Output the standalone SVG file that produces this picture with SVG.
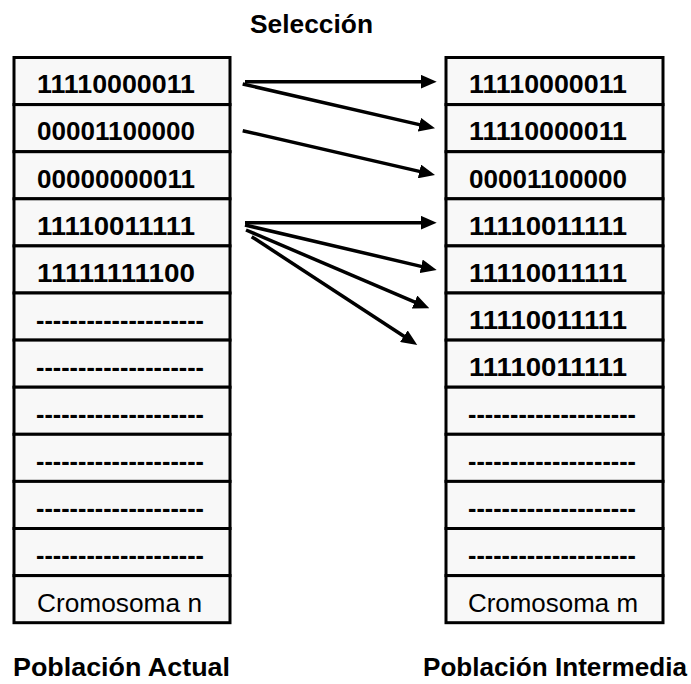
<svg xmlns="http://www.w3.org/2000/svg" width="691" height="684" viewBox="0 0 691 684">
<style>
.cell{fill:#f8f8f8;stroke:#000;stroke-width:3}
.b{font-family:"Liberation Sans",Arial,sans-serif;font-weight:bold;font-size:26px;fill:#000}
.r{font-family:"Liberation Sans",Arial,sans-serif;font-size:25px;fill:#000}
.t{font-family:"Liberation Sans",Arial,sans-serif;font-weight:bold;font-size:26px;fill:#000}
.arr{stroke:#000;stroke-width:3.5;fill:none;marker-end:url(#ah)}
</style>
<defs>
<marker id="ah" markerUnits="userSpaceOnUse" viewBox="0 0 16 14" refX="1" refY="7" markerWidth="16" markerHeight="14" orient="auto">
<path d="M0,0 L16,7 L0,14 z" fill="#000"/>
</marker>
</defs>
<rect width="691" height="684" fill="#fff"/>
<text class="t" x="311.5" y="33" text-anchor="middle" textLength="123" lengthAdjust="spacingAndGlyphs">Selección</text>

<g id="left-column">
<g id="l1"><rect class="cell" x="14" y="57.5" width="216" height="47.1"/><text class="b" x="37" y="93.3" textLength="158" lengthAdjust="spacingAndGlyphs">11110000011</text></g>
<g id="l2"><rect class="cell" x="14" y="104.6" width="216" height="47.1"/><text class="b" x="37" y="140.4" textLength="158" lengthAdjust="spacingAndGlyphs">00001100000</text></g>
<g id="l3"><rect class="cell" x="14" y="151.7" width="216" height="47.1"/><text class="b" x="37" y="187.5" textLength="158" lengthAdjust="spacingAndGlyphs">00000000011</text></g>
<g id="l4"><rect class="cell" x="14" y="198.8" width="216" height="47.1"/><text class="b" x="37" y="234.6" textLength="158" lengthAdjust="spacingAndGlyphs">11110011111</text></g>
<g id="l5"><rect class="cell" x="14" y="245.9" width="216" height="47.1"/><text class="b" x="37" y="281.7" textLength="158" lengthAdjust="spacingAndGlyphs">11111111100</text></g>
<g id="l6"><rect class="cell" x="14" y="293" width="216" height="47.1"/><text class="b" x="36" y="328.8" textLength="168" lengthAdjust="spacingAndGlyphs">--------------------</text></g>
<g id="l7"><rect class="cell" x="14" y="340.1" width="216" height="47.1"/><text class="b" x="36" y="375.9" textLength="168" lengthAdjust="spacingAndGlyphs">--------------------</text></g>
<g id="l8"><rect class="cell" x="14" y="387.2" width="216" height="47.1"/><text class="b" x="36" y="423" textLength="168" lengthAdjust="spacingAndGlyphs">--------------------</text></g>
<g id="l9"><rect class="cell" x="14" y="434.3" width="216" height="47.1"/><text class="b" x="36" y="470.1" textLength="168" lengthAdjust="spacingAndGlyphs">--------------------</text></g>
<g id="l10"><rect class="cell" x="14" y="481.4" width="216" height="47.1"/><text class="b" x="36" y="517.2" textLength="168" lengthAdjust="spacingAndGlyphs">--------------------</text></g>
<g id="l11"><rect class="cell" x="14" y="528.5" width="216" height="47.1"/><text class="b" x="36" y="564.3" textLength="168" lengthAdjust="spacingAndGlyphs">--------------------</text></g>
<g id="l12"><rect class="cell" x="14" y="575.6" width="216" height="47.1"/><text class="r" x="37" y="611.5" textLength="165" lengthAdjust="spacingAndGlyphs">Cromosoma n</text></g>
</g>

<g id="right-column">
<g id="r1"><rect class="cell" x="446" y="57.5" width="217" height="47.1"/><text class="b" x="469" y="93.3" textLength="158" lengthAdjust="spacingAndGlyphs">11110000011</text></g>
<g id="r2"><rect class="cell" x="446" y="104.6" width="217" height="47.1"/><text class="b" x="469" y="140.4" textLength="158" lengthAdjust="spacingAndGlyphs">11110000011</text></g>
<g id="r3"><rect class="cell" x="446" y="151.7" width="217" height="47.1"/><text class="b" x="469" y="187.5" textLength="158" lengthAdjust="spacingAndGlyphs">00001100000</text></g>
<g id="r4"><rect class="cell" x="446" y="198.8" width="217" height="47.1"/><text class="b" x="469" y="234.6" textLength="158" lengthAdjust="spacingAndGlyphs">11110011111</text></g>
<g id="r5"><rect class="cell" x="446" y="245.9" width="217" height="47.1"/><text class="b" x="469" y="281.7" textLength="158" lengthAdjust="spacingAndGlyphs">11110011111</text></g>
<g id="r6"><rect class="cell" x="446" y="293" width="217" height="47.1"/><text class="b" x="469" y="328.8" textLength="158" lengthAdjust="spacingAndGlyphs">11110011111</text></g>
<g id="r7"><rect class="cell" x="446" y="340.1" width="217" height="47.1"/><text class="b" x="469" y="375.9" textLength="158" lengthAdjust="spacingAndGlyphs">11110011111</text></g>
<g id="r8"><rect class="cell" x="446" y="387.2" width="217" height="47.1"/><text class="b" x="468" y="423" textLength="168" lengthAdjust="spacingAndGlyphs">--------------------</text></g>
<g id="r9"><rect class="cell" x="446" y="434.3" width="217" height="47.1"/><text class="b" x="468" y="470.1" textLength="168" lengthAdjust="spacingAndGlyphs">--------------------</text></g>
<g id="r10"><rect class="cell" x="446" y="481.4" width="217" height="47.1"/><text class="b" x="468" y="517.2" textLength="168" lengthAdjust="spacingAndGlyphs">--------------------</text></g>
<g id="r11"><rect class="cell" x="446" y="528.5" width="217" height="47.1"/><text class="b" x="468" y="564.3" textLength="168" lengthAdjust="spacingAndGlyphs">--------------------</text></g>
<g id="r12"><rect class="cell" x="446" y="575.6" width="217" height="47.1"/><text class="r" x="468" y="611.5" textLength="170" lengthAdjust="spacingAndGlyphs">Cromosoma m</text></g>
</g>

<g id="connectors">
<line class="arr" x1="245" y1="81.7" x2="421.7" y2="81.7"/>
<line class="arr" x1="242.7" y1="84" x2="420.4" y2="124.9"/>
<line class="arr" x1="242.7" y1="130.7" x2="420.4" y2="171.6"/>
<line class="arr" x1="245" y1="222.7" x2="421.7" y2="222.7"/>
<line class="arr" x1="245" y1="225" x2="422.1" y2="266.6"/>
<line class="arr" x1="246" y1="230" x2="415.5" y2="302.4"/>
<line class="arr" x1="251.7" y1="236.7" x2="404.7" y2="336.8"/>
</g>

<text class="t" x="13" y="676" textLength="217" lengthAdjust="spacingAndGlyphs">Población Actual</text>
<text class="t" x="423" y="676" textLength="264" lengthAdjust="spacingAndGlyphs">Población Intermedia</text>
</svg>
